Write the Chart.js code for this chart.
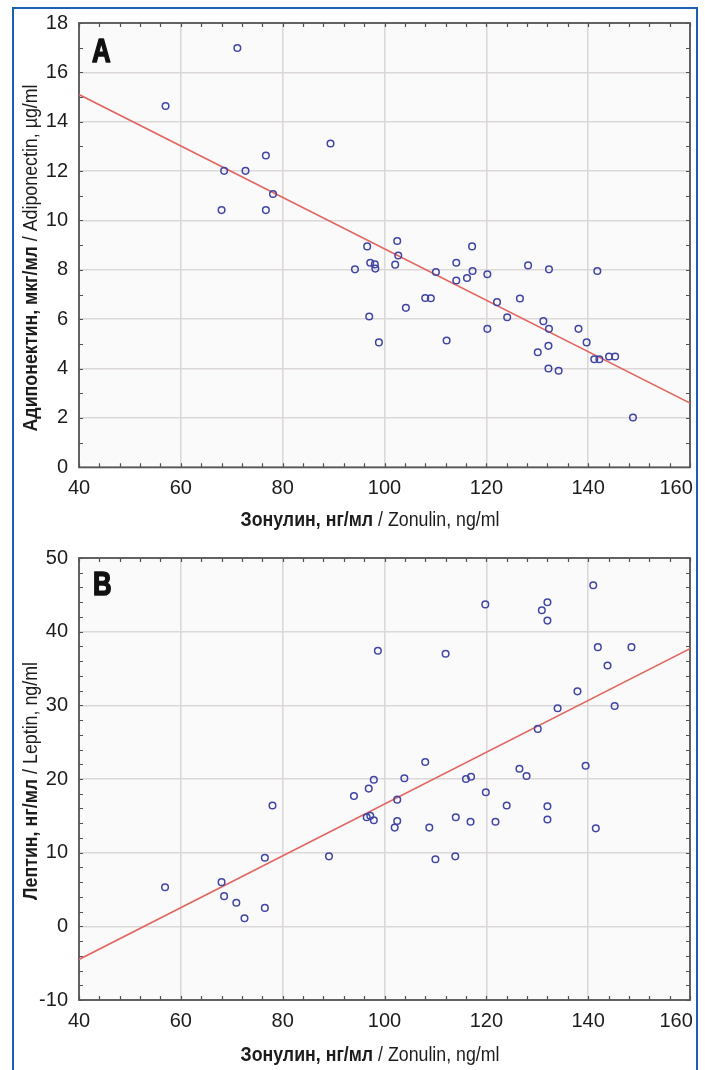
<!DOCTYPE html>
<html>
<head>
<meta charset="utf-8">
<script src="https://cdn.jsdelivr.net/npm/chart.js@4.4.1/dist/chart.umd.min.js"></script>
<style>
  html, body { margin: 0; padding: 0; background: #fff; overflow: hidden; }
  #page { position: relative; width: 705px; height: 1070px; overflow: hidden; }
  .frame {
    position: absolute; left: 12px; top: 7px; width: 686px; height: 1100px;
    border: 2.5px solid #1c5fb3; box-sizing: border-box;
  }
  canvas { position: absolute; left: 0; }
  #chartA { top: 0; }
  #chartB { top: 535px; }
</style>
</head>
<body>
<div id="page">
  <div class="frame"></div>
  <canvas id="chartA" width="730" height="535"></canvas>
  <canvas id="chartB" width="730" height="535"></canvas>
</div>
<script>
// ── Data ──
const xTicks = [40, 60, 80, 100, 120, 140, 160];

// Panel A: zonulin (ng/ml) vs adiponectin (µg/ml)
const zonulinA = [57.0, 71.1, 68.5, 72.7, 76.7, 78.1, 68.0, 76.7, 89.4, 96.6,
  102.5, 117.2, 102.7, 94.2, 97.2, 98.1, 98.2, 102.1, 114.1, 110.1,
  114.1, 116.2, 117.3, 120.2, 128.2, 132.3, 141.8, 108.0, 109.1, 126.6,
  122.1, 104.2, 124.1, 97.0, 131.2, 132.3, 120.2, 138.1, 139.7, 98.9,
  112.2, 132.2, 130.1, 141.2, 142.2, 144.1, 145.3, 132.2, 134.2, 148.8];
const adiponectin = [14.64, 16.99, 12.01, 12.01, 12.63, 11.07, 10.42, 10.42, 13.12, 8.95,
  9.17, 8.95, 8.58, 8.02, 8.29, 8.22, 8.05, 8.21, 8.29, 7.91,
  7.57, 7.67, 7.95, 7.82, 8.18, 8.02, 7.95, 6.86, 6.85, 6.84,
  6.69, 6.46, 6.08, 6.11, 5.92, 5.61, 5.61, 5.61, 5.06, 5.06,
  5.14, 4.92, 4.66, 4.38, 4.38, 4.49, 4.49, 4.00, 3.91, 2.02];
const fitA = [{ x: 40, y: 15.1 }, { x: 160, y: 2.6 }];
const yTicksA = [0, 2, 4, 6, 8, 10, 12, 14, 16, 18];

// Panel B: zonulin (ng/ml) vs leptin (ng/ml)
const zonulinB = [56.9, 68.0, 68.5, 70.9, 72.5, 76.5, 76.5, 78.0, 89.1, 94.0,
  96.9, 97.9, 103.9, 102.5, 96.5, 97.2, 97.9, 102.5, 102.0, 108.8,
  114.0, 116.9, 121.8, 119.9, 124.0, 132.0, 132.0, 141.5, 110.0, 113.9,
  116.0, 117.0, 127.9, 141.0, 119.8, 132.0, 130.9, 132.0, 98.7, 112.0,
  141.9, 148.5, 143.8, 137.9, 134.0, 145.2, 130.1, 108.0, 126.5, 139.5];
const leptin = [5.3, 6.0, 4.1, 3.2, 1.1, 2.5, 9.3, 16.4, 9.5, 17.7,
  18.7, 19.9, 20.1, 17.2, 14.8, 15.0, 14.4, 14.3, 13.4, 13.4,
  14.8, 14.2, 14.2, 18.2, 16.4, 16.3, 14.5, 13.3, 9.1, 9.5,
  20.0, 20.3, 20.4, 46.3, 43.7, 44.0, 42.9, 41.5, 37.4, 37.0,
  37.9, 37.9, 35.4, 31.9, 29.6, 29.9, 26.8, 22.3, 21.4, 21.8];
const fitB = [{ x: 40, y: -4.5 }, { x: 160, y: 37.7 }];
const yTicksB = [-10, 0, 10, 20, 30, 40, 50];

// ── Styling ──
const FONT = "'Liberation Sans', Arial, sans-serif";
const GRID = "#dcd8d8";
const INK = "#1c1c1c";

const plotBg = {
  id: "plotBg",
  beforeDraw(chart) {
    const a = chart.chartArea, ctx = chart.ctx;
    ctx.save();
    ctx.fillStyle = "#fafafb";
    ctx.fillRect(a.left, a.top, a.right - a.left, a.bottom - a.top);
    ctx.restore();
  },
};

// frame round the plot with small inside ticks, like the original software
const frameTicks = {
  id: "frameTicks",
  beforeDatasetsDraw(chart, args, opts) {
    const a = chart.chartArea, ctx = chart.ctx;
    const sx = chart.scales.x, sy = chart.scales.y;
    ctx.save();
    ctx.strokeStyle = "#505050";
    ctx.lineWidth = 1.2;
    ctx.beginPath();
    for (let v = sx.min; v <= sx.max + 0.001; v += opts.minorX) {
      const px = Math.round(sx.getPixelForValue(v)) + 0.5;
      ctx.moveTo(px, a.bottom); ctx.lineTo(px, a.bottom - 4);
      ctx.moveTo(px, a.top); ctx.lineTo(px, a.top + 4);
    }
    for (let v = sy.min; v <= sy.max + 0.001; v += opts.minorY) {
      const py = Math.round(sy.getPixelForValue(v)) + 0.5;
      ctx.moveTo(a.left, py); ctx.lineTo(a.left + 4, py);
      ctx.moveTo(a.right, py); ctx.lineTo(a.right - 4, py);
    }
    ctx.stroke();
    ctx.lineWidth = 1.8;
    ctx.strokeStyle = "#555";
    ctx.strokeRect(a.left, a.top, a.right - a.left, a.bottom - a.top);
    ctx.restore();
  },
};

// bold + regular text on one line, squeezed to the given width (narrow face in the original)
function mixedText(ctx, bold, normal, cx, cy, size, width) {
  const fb = `bold ${size}px ${FONT}`, fn = `${size}px ${FONT}`;
  ctx.font = fb;
  const wb = ctx.measureText(bold).width;
  ctx.font = fn;
  const wn = ctx.measureText(normal).width;
  const k = width / (wb + wn);
  ctx.save();
  ctx.translate(cx, cy);
  ctx.scale(k, 1);
  ctx.textAlign = "left";
  ctx.textBaseline = "middle";
  ctx.fillStyle = INK;
  ctx.font = fb;
  ctx.fillText(bold, -(wb + wn) / 2, 0);
  ctx.font = fn;
  ctx.fillText(normal, -(wb + wn) / 2 + wb, 0);
  ctx.restore();
}

const titles = {
  id: "titles",
  afterDraw(chart, args, o) {
    const ctx = chart.ctx;
    ctx.save();
    mixedText(ctx, o.xBold, o.xNormal, o.xPos[0], o.xPos[1], 21, o.xWidth);
    ctx.save();
    ctx.translate(o.yPos[0], o.yPos[1]);
    ctx.rotate(-Math.PI / 2);
    mixedText(ctx, o.yBold, o.yNormal, 0, 0, 21, o.yWidth);
    ctx.restore();
    // heavy condensed panel letter
    ctx.translate(o.letterPos[0], o.letterPos[1]);
    ctx.scale(0.78, 1);
    ctx.font = `bold 33px ${FONT}`;
    ctx.fillStyle = "#111";
    ctx.strokeStyle = "#111";
    ctx.lineWidth = 1.6;
    ctx.lineJoin = "round";
    ctx.textAlign = "left";
    ctx.textBaseline = "alphabetic";
    ctx.fillText(o.letter, 0, 0);
    ctx.strokeText(o.letter, 0, 0);
    ctx.restore();
  },
};

function buildChart(id, xs, ys, fit, yTicks, cfg) {
  const points = xs.map((x, i) => ({ x: x, y: ys[i] }));
  const tickFont = { family: FONT, size: 20 };

  return new Chart(document.getElementById(id), {
    type: "scatter",
    data: {
      datasets: [
        {
          data: points,
          pointRadius: 3.3,
          pointBorderWidth: 1.5,
          pointBorderColor: "#4145a3",
          pointBackgroundColor: "rgba(0,0,0,0)",
          order: 1,
        },
        {
          type: "line",
          data: fit,
          borderColor: "#e2665f",
          borderWidth: 1.6,
          pointRadius: 0,
          fill: false,
          order: 2,
        },
      ],
    },
    options: {
      responsive: false,
      animation: false,
      devicePixelRatio: 1,
      layout: { padding: { left: 14, right: 40, top: cfg.top, bottom: 0 } },
      plugins: {
        legend: { display: false },
        tooltip: { enabled: false },
        frameTicks: { minorX: 4, minorY: cfg.minorY },
        titles: cfg.titles,
      },
      scales: {
        x: {
          type: "linear",
          min: xTicks[0],
          max: xTicks[xTicks.length - 1],
          afterBuildTicks: (s) => { s.ticks = xTicks.map((v) => ({ value: v })); },
          afterFit: (s) => { s.height = cfg.xHeight; },
          grid: { color: GRID, lineWidth: 1.6, drawTicks: false },
          border: { display: false },
          ticks: {
            font: tickFont, color: INK, padding: 9, maxRotation: 0,
            // the last label sits inside the frame, as in the original
            callback: (v) => (v === xTicks[xTicks.length - 1] ? v + "     " : String(v)),
          },
        },
        y: {
          type: "linear",
          min: yTicks[0],
          max: yTicks[yTicks.length - 1],
          afterBuildTicks: (s) => { s.ticks = yTicks.map((v) => ({ value: v })); },
          afterFit: (s) => { s.width = 65; },
          grid: { color: GRID, lineWidth: 1.6, drawTicks: false },
          border: { display: false },
          ticks: { font: tickFont, color: INK, padding: 11 },
        },
      },
    },
    plugins: [plotBg, frameTicks, titles],
  });
}

buildChart("chartA", zonulinA, adiponectin, fitA, yTicksA, {
  top: 23,
  xHeight: 67.7,
  minorY: 1,
  titles: {
    xBold: "Зонулин, нг/мл", xNormal: " / Zonulin, ng/ml", xPos: [370, 520], xWidth: 259,
    yBold: "Адипонектин, мкг/мл", yNormal: " / Adiponectin, µg/ml", yPos: [31, 258], yWidth: 347,
    letter: "A", letterPos: [92, 62],
  },
});

buildChart("chartB", zonulinB, leptin, fitB, yTicksB, {
  top: 18.3,
  xHeight: 70,
  minorY: 2,
  titles: {
    xBold: "Зонулин, нг/мл", xNormal: " / Zonulin, ng/ml", xPos: [370, 520], xWidth: 259,
    yBold: "Лептин, нг/мл", yNormal: " / Leptin, ng/ml", yPos: [31, 781 - 535], yWidth: 238,
    letter: "B", letterPos: [93, 60],
  },
});
</script>
</body>
</html>
